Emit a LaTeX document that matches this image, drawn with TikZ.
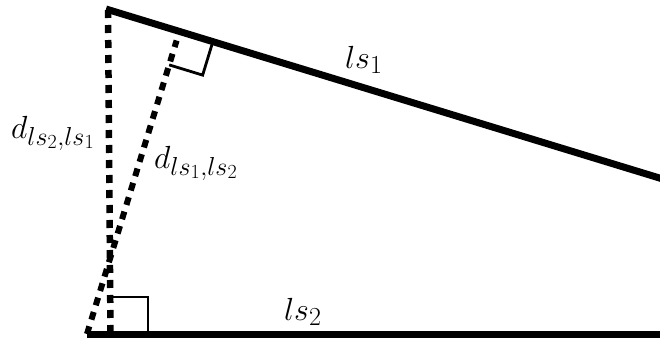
\RequirePackage{fix-cm}
\documentclass[tikz,border=0pt]{standalone}
\usetikzlibrary{calc}
\DeclareMathSizes{32}{32}{26}{20}
\newcommand{\mainsz}{\fontsize{32}{34}\selectfont}
\tikzset{
  seg/.style={line width=7pt, line cap=butt},
  dist/.style={line width=6.5pt, dash pattern=on 8pt off 7pt},
  rmark/.style={line width=2.8pt, line join=miter},
  lbl/.style={inner sep=0pt, anchor=base west, font=\mainsz}
}
\begin{document}
\begin{tikzpicture}[x=1pt,y=-1pt]
\useasboundingbox (0,0) rectangle (660,340);
\clip (0,0) rectangle (660,340);
% points
\coordinate (A) at (106,9);
\coordinate (E) at (666,180);
\coordinate (B) at (87,334);
\coordinate (R) at (666,334);
\coordinate (Vt) at (108,10);
\coordinate (Vb) at (110.5,334);
\coordinate (F) at ($(A)!(B)!(E)$);
% right-angle marker at F
\coordinate (U) at ($(F)!35pt!(E)$);
\coordinate (N) at ($(F)!35pt!(B)$);
\coordinate (C) at ($(U)+(N)-(F)$);
\draw[rmark] (U) -- (C) -- (N);
% right-angle marker at bottom
\coordinate (M1) at (110.5,297);
\coordinate (M2) at (148,297);
\coordinate (M3) at (148,334);
\draw[rmark] (M1) -- (M2) -- (M3);
% distances
\draw[dist] (Vt) -- (Vb);
\draw[dist, line width=6pt] (B) -- ($(B)!0.97!(F)$);
% segments
\draw[seg] (A) -- (E);
\draw[seg] (B) -- (R);
% labels
\node[lbl] (l1) at (345,68) {$ls_1$};
\node[lbl] (l2) at (284,320) {$ls_2$};
\node[lbl] (d21) at (11,138) {$d_{ls_2,ls_1}$};
\node[lbl] (d12) at (154,168) {$d_{ls_1,ls_2}$};
\end{tikzpicture}
\end{document}
